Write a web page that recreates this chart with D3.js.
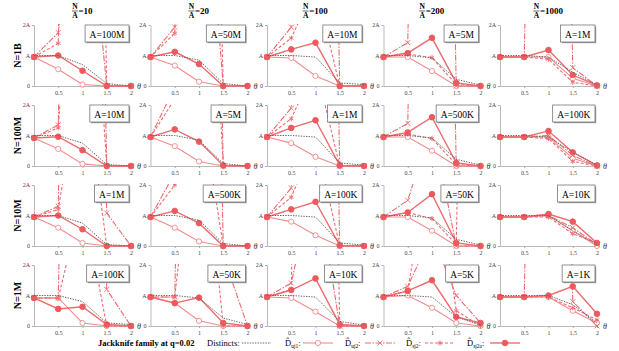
<!DOCTYPE html>
<html>
<head>
<meta charset="utf-8">
<script src="https://cdn.jsdelivr.net/npm/d3@7"></script>
<style>
  body { margin: 0; background: #fff; }
  text { font-family: "Liberation Serif", "DejaVu Serif", serif; }
</style>
</head>
<body>
<svg id="chart" width="619" height="351"></svg>
<script>
const thetas = [0, 0.5, 1, 1.5, 2];
const ratioLabels = ["10", "20", "100", "200", "1000"];
const rowLabels = ["N=1B", "N=100M", "N=10M", "N=1M"];
const aLabels = [
  ["A=100M", "A=50M", "A=10M", "A=5M", "A=1M"],
  ["A=10M", "A=5M", "A=1M", "A=500K", "A=100K"],
  ["A=1M", "A=500K", "A=100K", "A=50K", "A=10K"],
  ["A=100K", "A=50K", "A=10K", "A=5K", "A=1K"]
];

// estimates in units of A, at theta = 0, 0.5, 1, 1.5, 2 (big numbers run off the top)
const distincts = [
  [[1,1,0.7,0.08,0], [1,1,0.85,0.08,0], [1,1,0.95,0.1,0.05], [1,1,0.92,0.22,0.03], [1,1,0.95,0.45,0.03]],
  [[1,1,0.75,0.05,0], [1,1,0.85,0.08,0], [1,1,0.95,0.1,0.03], [1,1,0.92,0.22,0.03], [1,1,0.95,0.45,0.03]],
  [[1,1,0.75,0.05,0], [1,1,0.85,0.08,0], [1,1,0.95,0.1,0.03], [1,1,0.92,0.22,0.03], [1,1,1,0.5,0.05]],
  [[1,1,0.8,0.1,0.05], [1,1,0.92,0.26,0.05], [1,1,0.95,0.15,0.03], [1,1,0.95,0.3,0.03], [1,1,1,0.7,0.1]]
];
const uj1 = [
  [[0.95,0.55,0.05,0,0], [0.95,0.67,0.14,0,0], [0.95,0.92,0.33,0,0], [0.95,0.95,0.49,0,0], [0.95,0.95,0.95,0.25,0]],
  [[0.92,0.56,0.07,0,0], [0.95,0.65,0.15,0,0], [0.95,0.75,0.3,0,0], [0.95,0.95,0.5,0,0], [0.95,0.95,0.95,0.25,0]],
  [[0.95,0.6,0.1,0,0], [0.95,0.6,0.15,0,0], [0.95,0.8,0.35,0,0], [0.95,0.95,0.5,0,0], [0.95,0.95,1,0.5,0]],
  [[0.92,0.92,0.1,0,0], [0.95,0.75,0.17,0,0], [0.95,0.92,0.47,0,0], [0.95,1,0.6,0.1,0], [0.95,0.95,0.95,0.5,0.1]]
];
const uj2 = [
  [[0.95,1.75,8,0,0], [0.95,1.93,10,0,0], [0.95,1.93,40,0,0], [0.95,1.42,40,0,0], [0.95,0.95,40,0.6,0]],
  [[0.92,1.35,40,0,0], [0.95,2.6,40,0,0], [0.95,1.9,40,0,0], [0.95,1.4,40,0,0], [0.95,0.95,1,0.35,0]],
  [[0.95,1.3,40,1.08,0], [0.95,2.4,40,0,0], [0.95,1.9,40,0,0], [0.95,1.5,4,0,0], [0.95,0.95,1,0.6,0.05]],
  [[0.92,0.92,40,1.2,0], [0.95,0.95,40,2.3,0], [0.95,1.41,5,0,0], [0.95,1.3,3,1,0.1], [0.95,0.95,40,0.8,0]]
];
const sj2 = [
  [[0.95,1.4,40,0,0], [0.95,1.73,30,0,0], [0.95,1.57,3.3,0,0], [0.95,1.05,0.93,0.05,0], [0.95,0.95,0.88,0.12,0]],
  [[0.92,1.25,12,0,0], [0.95,2.2,15,0,0], [0.95,1.55,3.3,0,0], [0.95,1.05,0.9,0.05,0], [0.95,0.95,0.9,0.15,0]],
  [[0.95,1.2,6,0,0], [0.95,2,5,0,0], [0.95,1.6,3.5,0,0], [0.95,1.1,0.9,0.05,40], [0.95,0.95,0.95,0.4,0.1]],
  [[0.92,0.92,4.2,0,0], [0.95,0.95,8,0,0], [0.95,1.2,40,0,0], [0.95,1.15,6,0.5,0], [0.95,0.95,0.95,0.6,0.2]]
];
const sj2a = [
  [[0.95,1,0.5,0,0], [0.95,1.12,0.72,0,0], [0.95,1.2,1.42,0,0], [0.95,1.08,1.58,0.1,0], [0.95,0.95,1.18,0.36,0.02]],
  [[0.92,0.96,0.52,0,0], [0.95,1.2,0.8,0.02,0], [0.95,1.25,1.5,0.02,0], [0.95,1.1,1.6,0.1,0], [0.95,0.95,1.15,0.45,0.02]],
  [[0.95,1,0.55,0,0], [0.95,1.15,0.75,0,0], [0.95,1.2,1.45,0.02,0], [0.95,1.1,1.7,0.1,0], [0.95,0.95,1.05,0.8,0.1]],
  [[0.92,0.56,0.63,0.05,0], [0.95,0.75,0.93,0.1,0], [0.95,1.18,1.56,0.05,0], [0.95,1.15,1.5,0.3,0.1], [0.95,0.95,1,1.3,0.4]]
];

const red = '#ee6a6d';
const series = [
  {name: 'uj1', data: uj1, color: '#f28a8c', dash: null, width: 1.1, marker: 'open'},
  {name: 'uj2', data: uj2, color: red, dash: '6,1.5,1.5,1.5', width: 1.1, marker: 'times'},
  {name: 'sj2', data: sj2, color: red, dash: '3,2', width: 1.1, marker: 'star'},
  {name: 'sj2a', data: sj2a, color: red, dash: null, width: 1.4, marker: 'filled'},
  {name: 'dist', data: distincts, color: '#666', dash: '1.4,1.2', width: 1, marker: null}
];

const pw = 97, ph = 61;
const left0 = 34, top0 = 25, colStep = 116.5, rowStep = 80;

const svg = d3.select('#chart');
svg.append('defs').append('clipPath')
    .attr('id', 'plotclip')
  .append('rect')
    .attr('x', -4).attr('y', -1)
    .attr('width', pw + 8).attr('height', ph + 6);

const x = d3.scaleLinear().domain([0, 2]).range([0, pw]);
const y = d3.scaleLinear().domain([0, 2]).range([ph, 0]);

const line = d3.line()
    .x((d, i) => x(thetas[i]))
    .y(d => y(d));

function drawMarker(g, s, px, py) {
  if (s.marker === 'open') {
    g.append('circle').attr('cx', px).attr('cy', py).attr('r', 2.6)
      .attr('fill', '#fff').attr('stroke', s.color).attr('stroke-width', 0.9);
  } else if (s.marker === 'filled') {
    g.append('circle').attr('cx', px).attr('cy', py).attr('r', 2.8)
      .attr('fill', '#ec5a5e').attr('stroke', '#ec5a5e');
  } else if (s.marker === 'times') {
    g.append('path').attr('d', d3.symbol(d3.symbolTimes, 18)())
      .attr('transform', `translate(${px},${py})`)
      .attr('fill', 'none').attr('stroke', s.color).attr('stroke-width', 0.9);
  } else if (s.marker === 'star') {
    g.append('path').attr('d', d3.symbol(d3.symbolAsterisk, 18)())
      .attr('transform', `translate(${px},${py})`)
      .attr('fill', 'none').attr('stroke', s.color).attr('stroke-width', 0.9);
  }
}

rowLabels.forEach((rl, r) => {
  const ty = top0 + r * rowStep;
  svg.append('text')
      .attr('transform', `translate(21, ${ty + ph / 2}) rotate(-90)`)
      .attr('text-anchor', 'middle')
      .attr('font-size', 10).attr('font-weight', 'bold')
      .text(rl);

  ratioLabels.forEach((rat, c) => {
    const tx = left0 + c * colStep;
    const panel = svg.append('g').attr('transform', `translate(${tx}, ${ty})`);

    panel.append('g')
        .attr('class', 'axis')
        .attr('transform', `translate(0, ${ph})`)
        .call(d3.axisBottom(x).tickValues([0.5, 1, 1.5, 2]).tickFormat(d3.format('')).tickSizeInner(2).tickSizeOuter(0).tickPadding(3));
    panel.append('g')
        .attr('class', 'axis')
        .call(d3.axisLeft(y).tickValues([0, 1, 2]).tickFormat(d => ['0', 'A', '2A'][d]).tickSizeInner(2).tickSizeOuter(0).tickPadding(2));

    panel.append('text')
        .attr('x', pw + 6).attr('y', ph + 3)
        .attr('font-size', 8).attr('font-style', 'italic')
        .attr('fill', '#333')
        .text('θ');

    // A=... box
    const box = panel.append('g');
    const lbl = box.append('text')
        .attr('font-size', 9.5)
        .attr('y', 13)
        .text(aLabels[r][c]);
    const tw = lbl.node().getComputedTextLength();
    const bw = tw + 9, bh = 17;
    const bx = pw - 2 - bw;
    box.insert('rect', 'text')
        .attr('x', bx + 1.2).attr('y', 1.2).attr('width', bw).attr('height', bh)
        .attr('fill', '#999');
    box.insert('rect', 'text')
        .attr('x', bx).attr('y', 0).attr('width', bw).attr('height', bh)
        .attr('fill', '#fff').attr('stroke', '#777').attr('stroke-width', 0.8);
    lbl.attr('x', bx + 4.5);

    const plot = panel.append('g').attr('clip-path', 'url(#plotclip)');
    series.forEach(s => {
      const vals = s.data[r][c];
      plot.append('path')
          .datum(vals)
          .attr('d', line)
          .attr('fill', 'none')
          .attr('stroke', s.color)
          .attr('stroke-width', s.width)
          .attr('stroke-dasharray', s.dash);
      vals.forEach((v, i) => { if (v <= 2.1) drawMarker(plot, s, x(thetas[i]), y(v)); });
    });
    // keep the label readable above the lines
    box.raise();
  });
});

svg.selectAll('.axis path.domain').attr('stroke', '#aaa').attr('stroke-width', 0.8);
svg.selectAll('.axis line').attr('stroke', '#aaa');
svg.selectAll('.axis text').attr('font-size', 6).attr('fill', '#444')
    .attr('font-family', '"Liberation Serif", serif');

// column headers N/A = ...
ratioLabels.forEach((rat, c) => {
  const cx = left0 + c * colStep + 48;
  const hg = svg.append('g');
  const eq = hg.append('text').attr('font-size', 9).attr('font-weight', 'bold').attr('y', 14).text('=' + rat);
  const ew = eq.node().getComputedTextLength();
  const fw = 6;
  const sx = cx - (fw + ew) / 2;
  hg.append('text').attr('x', sx + fw / 2).attr('y', 9).attr('text-anchor', 'middle')
    .attr('font-size', 7.5).attr('font-weight', 'bold').text('N');
  hg.append('line').attr('x1', sx).attr('x2', sx + fw).attr('y1', 11).attr('y2', 11)
    .attr('stroke', '#000').attr('stroke-width', 0.6);
  hg.append('text').attr('x', sx + fw / 2).attr('y', 18).attr('text-anchor', 'middle')
    .attr('font-size', 7.5).attr('font-weight', 'bold').text('A');
  eq.attr('x', sx + fw + 0.5);
});

// bottom legend
const ly = 343;
const legend = svg.append('g');
legend.append('text').attr('x', 98).attr('y', ly + 3)
    .attr('font-size', 8.5).attr('font-weight', 'bold')
    .text('Jackknife family at q=0.02');
legend.append('text').attr('x', 207).attr('y', ly + 3).attr('font-size', 8.5).text('Distincts:');
legend.append('line').attr('x1', 242).attr('x2', 271).attr('y1', ly).attr('y2', ly)
    .attr('stroke', '#666').attr('stroke-width', 1).attr('stroke-dasharray', '1.4,1.2');

const legItems = [
  {s: series[0], sub: 'uj1', tx: 285, lx: 303},
  {s: series[1], sub: 'uj2', tx: 345, lx: 365},
  {s: series[2], sub: 'sj2', tx: 406, lx: 425},
  {s: series[3], sub: 'sj2a', tx: 467, lx: 490}
];
legItems.forEach(it => {
  const t = legend.append('text').attr('x', it.tx).attr('y', ly + 3).attr('font-size', 8.5);
  t.append('tspan').text('D\u0302');
  t.append('tspan').attr('font-size', 5.5).attr('dy', 1.5).text(it.sub);
  t.append('tspan').attr('dy', -1.5).text(':');
  legend.append('line').attr('x1', it.lx).attr('x2', it.lx + 30).attr('y1', ly).attr('y2', ly)
      .attr('stroke', it.s.color).attr('stroke-width', it.s.width)
      .attr('stroke-dasharray', it.s.dash);
  drawMarker(legend, it.s, it.lx + 15, ly);
});
</script>
</body>
</html>
